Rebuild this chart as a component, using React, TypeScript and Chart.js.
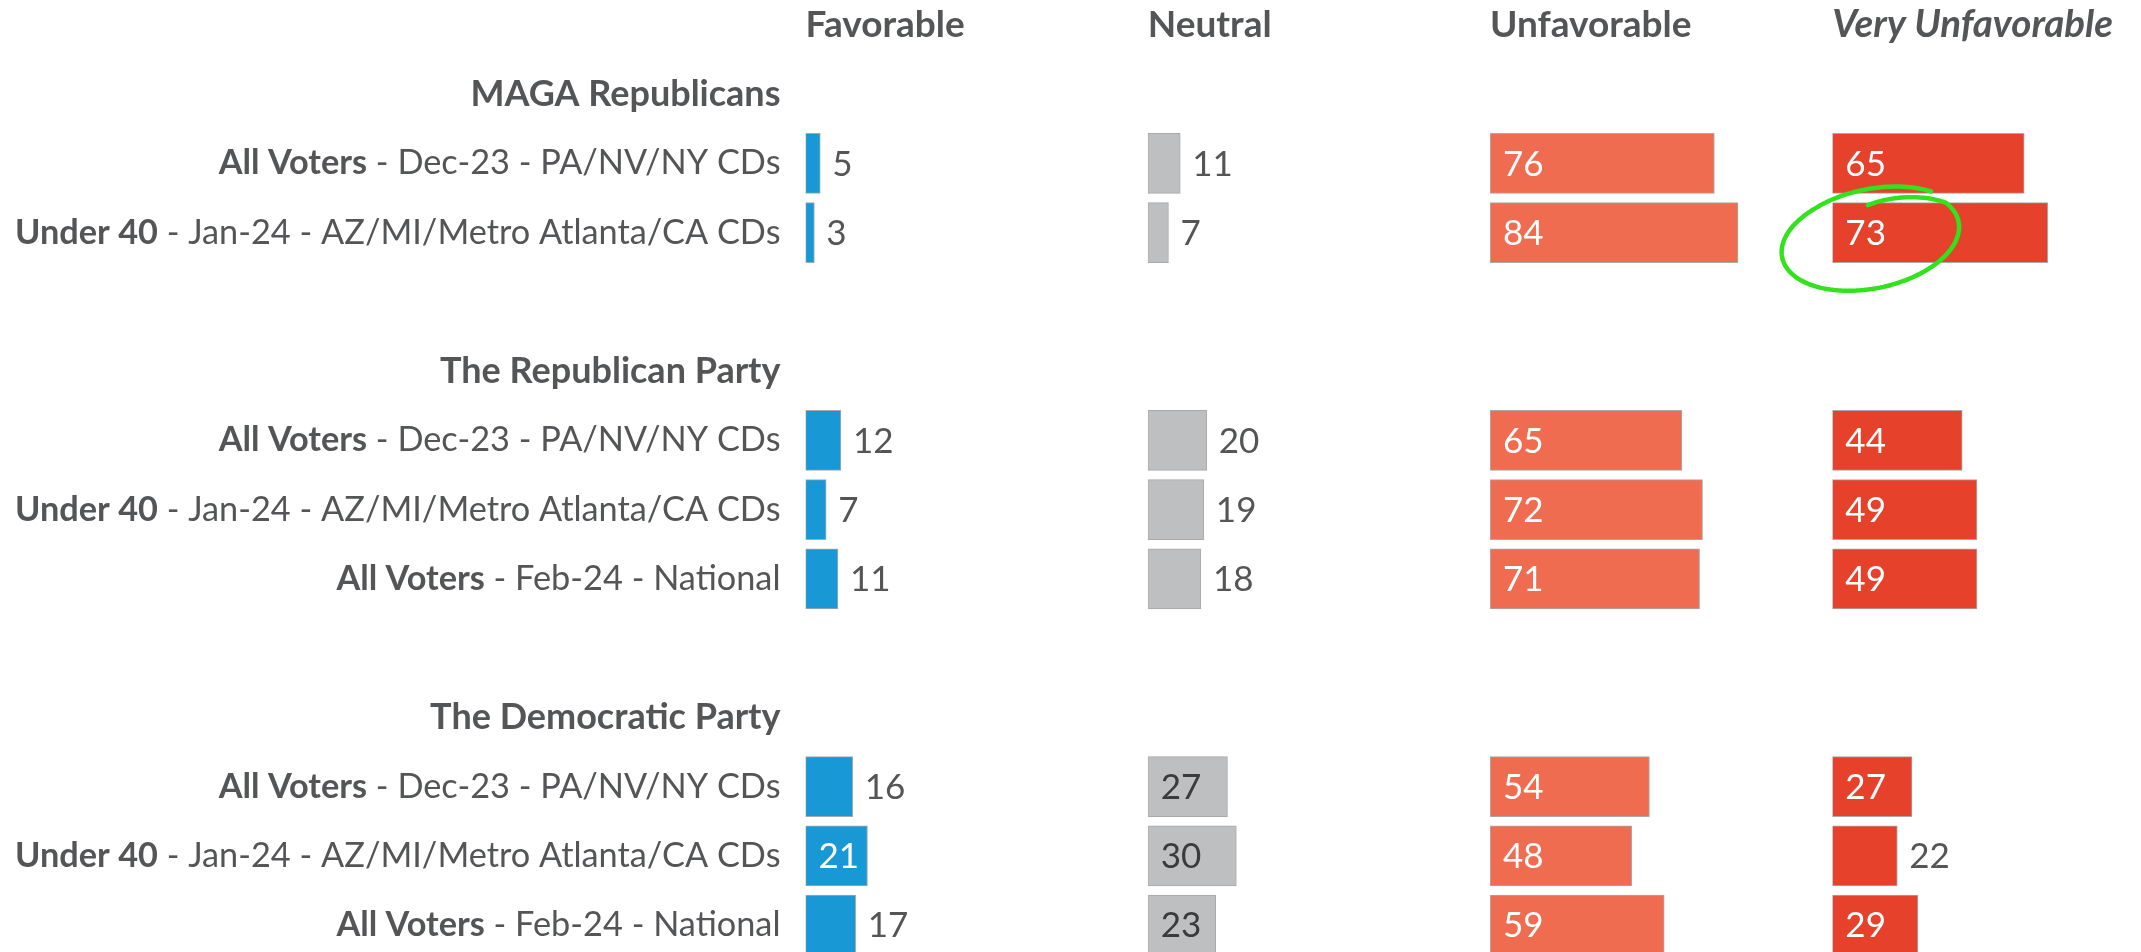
import React, { useEffect, useRef } from "react";
import { Chart, registerables } from "chart.js";

Chart.register(...registerables);

// ---------- data ----------
const columns = ["Favorable", "Neutral", "Unfavorable", "Very Unfavorable"];
const groups = ["MAGA Republicans", "The Republican Party", "The Democratic Party"];
const groupSizes = [2, 3, 3];
const rowBold = ["All Voters", "Under 40", "All Voters", "Under 40", "All Voters", "All Voters", "Under 40", "All Voters"];
const rowRest = [
  " - Dec-23 - PA/NV/NY CDs",
  " - Jan-24 - AZ/MI/Metro Atlanta/CA CDs",
  " - Dec-23 - PA/NV/NY CDs",
  " - Jan-24 - AZ/MI/Metro Atlanta/CA CDs",
  " - Feb-24 - National",
  " - Dec-23 - PA/NV/NY CDs",
  " - Jan-24 - AZ/MI/Metro Atlanta/CA CDs",
  " - Feb-24 - National",
];
const favorable = [5, 3, 12, 7, 11, 16, 21, 17];
const neutral = [11, 7, 20, 19, 18, 27, 30, 23];
const unfavorable = [76, 84, 65, 72, 71, 54, 48, 59];
const veryUnfavorable = [65, 73, 44, 49, 49, 27, 22, 29];

// ---------- style / layout ----------
const series = [favorable, neutral, unfavorable, veryUnfavorable];
const panelMax = [116, 116, 116, 104.6];
const barColors = ["#1899D5", "#BEBFC1", "#F06C51", "#E6412A"];
const insideText = ["#FFFFFF", "#3A3B3D", "#FFFFFF", "#FFFFFF"];
const insideMin = [21, 21, 21, 25];
const TEXT = "#545557";
const FONT = "Lato";
const Y_MIN = -0.3581;
const Y_MAX = 13.389;

// slot positions (header is slot 0)
const rowSlots: number[] = [];
const groupSlots: number[] = [];
(() => {
  let s = 1;
  groupSizes.forEach((n) => {
    groupSlots.push(s);
    s++;
    for (let k = 0; k < n; k++) {
      rowSlots.push(s);
      s++;
    }
    s++;
  });
})();

const labelsPlugin = {
  id: "customLabels",
  afterDraw(chart: any) {
    const ctx = chart.ctx as CanvasRenderingContext2D;
    const yS = chart.scales.y;
    const textRight = chart.chartArea.left - 25;
    ctx.save();
    ctx.textBaseline = "middle";
    ctx.fillStyle = TEXT;

    // column headers
    columns.forEach((c, i) => {
      const sc = chart.scales["x" + i];
      ctx.font = i === 3 ? `italic bold 38.5px ${FONT}` : `bold 37px ${FONT}`;
      ctx.textAlign = "left";
      ctx.fillText(c, sc.left, yS.getPixelForValue(0));
    });

    // group labels
    ctx.textAlign = "right";
    groups.forEach((g, i) => {
      ctx.font = `bold 36px ${FONT}`;
      ctx.fillText(g, textRight, yS.getPixelForValue(groupSlots[i]));
    });

    // row labels
    rowSlots.forEach((slot, j) => {
      const y = yS.getPixelForValue(slot);
      ctx.font = `34.3px ${FONT}`;
      ctx.fillText(rowRest[j], textRight, y);
      const w = ctx.measureText(rowRest[j]).width;
      ctx.font = `bold 34.3px ${FONT}`;
      ctx.fillText(rowBold[j], textRight - w, y);
    });

    // value labels
    ctx.font = `35px ${FONT}`;
    ctx.textAlign = "left";
    series.forEach((vals, i) => {
      const meta = chart.getDatasetMeta(i);
      meta.data.forEach((el: any, j: number) => {
        const { x, y, base } = el.getProps(["x", "y", "base"], true);
        const v = vals[j];
        if (v >= insideMin[i]) {
          ctx.fillStyle = insideText[i];
          ctx.fillText(String(v), base + 13, y + 1);
        } else {
          ctx.fillStyle = TEXT;
          ctx.fillText(String(v), x + 12, y + 1);
        }
      });
    });

    // hand-drawn green highlight around "73"
    const el = chart.getDatasetMeta(3).data[1] as any;
    if (el) {
      const { y, base } = el.getProps(["y", "base"], true);
      const cx = base + 38;
      const cy = y + 7;
      const rx = 90;
      const ry = 49;
      const rot = -0.2;
      ctx.strokeStyle = "#31E21C";
      ctx.lineWidth = 4.5;
      ctx.lineCap = "round";
      ctx.lineJoin = "round";
      ctx.beginPath();
      const t0 = -1.5;
      const t1 = t0 + Math.PI * 2 + 0.75;
      const steps = 160;
      for (let k = 0; k <= steps; k++) {
        const t = t0 + ((t1 - t0) * k) / steps;
        const p = k / steps;
        const f = p < 0.15 ? 0.7 + (0.3 * p) / 0.15 : 1 + (0.05 * Math.max(0, p - 0.8)) / 0.2;
        const ex = Math.cos(t) * rx * f;
        const ey = Math.sin(t) * ry * f;
        const px = cx + ex * Math.cos(rot) - ey * Math.sin(rot);
        const py = cy + ex * Math.sin(rot) + ey * Math.cos(rot);
        if (k === 0) ctx.moveTo(px, py);
        else ctx.lineTo(px, py);
      }
      ctx.stroke();
    }
    ctx.restore();
  },
};

export default function App() {
  const ref = useRef<HTMLCanvasElement | null>(null);

  useEffect(() => {
    if (!ref.current) return;
    const scales: any = {
      y: { type: "linear", reverse: true, min: Y_MIN, max: Y_MAX, offset: false, display: false },
    };
    panelMax.forEach((m, i) => {
      scales["x" + i] = {
        type: "linear",
        position: "bottom",
        stack: "panels",
        stackWeight: m,
        min: 0,
        max: m,
        offset: false,
        display: false,
      };
    });
    const chart = new Chart(ref.current, {
      type: "bar",
      data: {
        datasets: series.map((vals, i) => ({
          label: columns[i],
          data: vals.map((v, j) => ({ x: v, y: rowSlots[j] })),
          xAxisID: "x" + i,
          yAxisID: "y",
          backgroundColor: barColors[i],
          borderColor: "rgba(140,140,140,0.75)",
          borderWidth: 1,
          borderSkipped: false,
          grouped: false,
          barThickness: 60,
        })),
      },
      options: {
        indexAxis: "y",
        animation: false,
        responsive: false,
        devicePixelRatio: 1,
        layout: { padding: { left: 805.5, right: 0, top: 0, bottom: 0 } },
        scales,
        plugins: {
          legend: { display: false },
          tooltip: { enabled: false },
        },
      } as any,
      plugins: [labelsPlugin],
    });
    return () => chart.destroy();
  }, []);

  return (
    <div style={{ position: "fixed", left: 0, top: 0, width: 2141, height: 952, background: "#FFFFFF" }}>
      <canvas ref={ref} width={2141} height={952} style={{ display: "block" }} />
    </div>
  );
}
